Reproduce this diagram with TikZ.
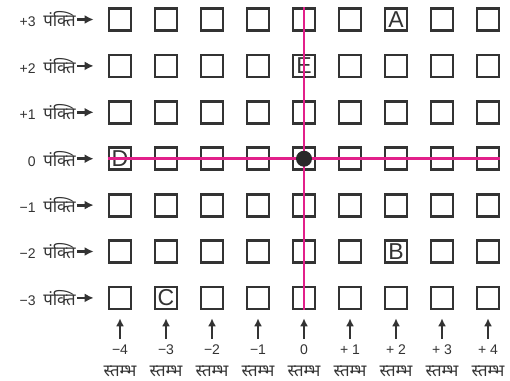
\documentclass[tikz,border=0pt]{standalone}
\usepackage{fontspec}
\setmainfont{Liberation Sans}
\newfontfamily\hindi[Script=Devanagari,Scale=1.2]{Noto Sans}
\usepackage{tikz}
\usetikzlibrary{arrows.meta,positioning,calc}
\definecolor{griddark}{HTML}{333333}
\definecolor{linepink}{HTML}{E2208A}

\begin{document}
\begin{tikzpicture}[x=1pt, y=-1pt,
    cell/.style={draw=griddark, line width=2.8pt, minimum size=22pt, inner sep=0pt},
    letter/.style={text=griddark, font=\fontsize{23}{23}\selectfont, inner sep=0pt},
    lbl/.style={text=griddark, font=\fontsize{14}{16}\selectfont, inner sep=1pt},
    rowarr/.style={-{Latex[length=9pt,width=9pt]}, griddark, line width=2.8pt, shorten >=14pt},
    colarr/.style={-{Latex[length=8pt,width=8pt]}, griddark, line width=2.2pt, shorten <=5pt, shorten >=8pt},
    pinkline/.style={linepink, line width=2.8pt},
    origindot/.style={circle, fill=griddark!80!black, minimum size=16pt, inner sep=0pt}]
  \useasboundingbox (0,0) rectangle (510,380);

  % grid of squares
  \foreach \i in {1,...,9}
    \foreach \j in {1,...,7}
      \node[cell] (sq\i-\j) at ({120+46*(\i-1)}, {19.5+46.4*(\j-1)}) {};

  % lettered squares
  \foreach \i/\j/\t in {7/1/A, 5/2/E, 1/4/D, 7/6/B, 2/7/C}
    \node[letter] (ltr\t) at (sq\i-\j) {\t};

  % rows
  \foreach \j/\t in {1/+3, 2/+2, 3/+1, 4/0, 5/−1, 6/−2, 7/−3} {
    \node[lbl, anchor=east] (row\j) at (77, {19.5+46.4*(\j-1)}) {\t\hspace{0.55em}{\hindi पंक्ति}};
    \draw[rowarr] (row\j.east) -- (sq1-\j.west);
  }

  % columns
  \foreach \i/\t in {1/−4, 2/−3, 3/−2, 4/−1, 5/0, 6/+ 1, 7/+ 2, 8/+ 3, 9/+ 4} {
    \node[lbl] (num\i) at ({120+46*(\i-1)}, 350) {\t};
    \node[lbl] (stb\i) at ({120+46*(\i-1)}, 371) {\hindi स्तम्भ};
    \draw[colarr] (num\i.north) -- (sq\i-7.south);
  }

  % axes through the origin
  \draw[pinkline] (sq1-4.west) -- (sq9-4.east);
  \draw[pinkline] (sq5-1.north) -- (sq5-7.south);
  \node[origindot] (origin) at (sq5-4) {};
\end{tikzpicture}
\end{document}
